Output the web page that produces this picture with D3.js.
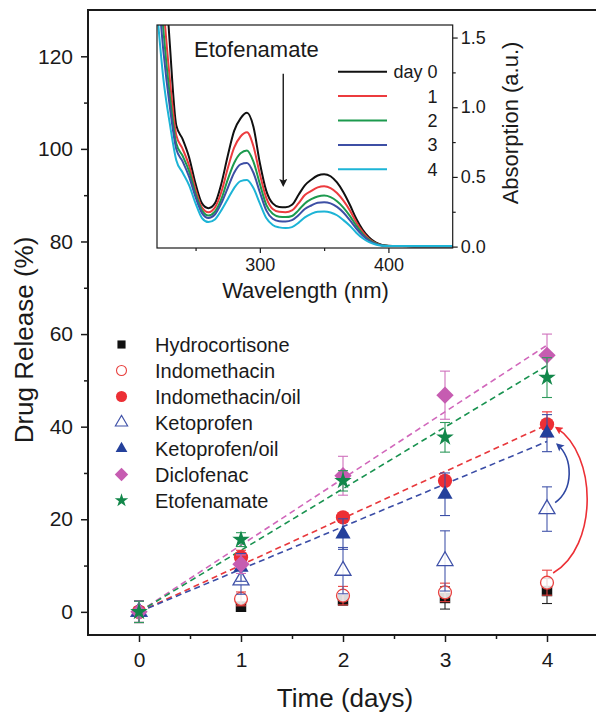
<!DOCTYPE html>
<html>
<head>
<meta charset="utf-8">
<script src="https://cdn.jsdelivr.net/npm/d3@7"></script>
<style>
body { margin: 0; background: #fff; }
text { font-family: "Liberation Sans", Arial, sans-serif; fill: #1a1a1a; }
</style>
</head>
<body>
<svg id="chart" width="596" height="714"></svg>
<script>
// ---- release data (days) ----
const days = [0, 1, 2, 3, 4]
const hydrocortisone = [0, 1.1, 2.5, 3.0, 4.5]
const hydrocortisoneErr = [2.3, 1.0, 1.0, 2.4, 2.7]
const indomethacin = [0, 2.8, 3.5, 4.2, 6.3]
const indomethacinErr = [2.3, 1.5, 2.0, 2.0, 2.7]
const indomethacinOil = [0, 11.8, 20.4, 28.3, 40.5]
const indomethacinOilErr = [2.3, 1.5, 1.0, 1.0, 2.7]
const ketoprofen = [0, 6.8, 8.9, 11.0, 22.2]
const ketoprofenErr = [2.3, 3.0, 5.0, 6.5, 4.8]
const ketoprofenOil = [0, 9.6, 16.8, 25.4, 38.6]
const ketoprofenOilErr = [2.3, 3.0, 3.3, 4.6, 4.0]
const diclofenac = [0, 10.3, 29.4, 46.8, 55.4]
const diclofenacErr = [2.3, 2.0, 4.2, 5.2, 4.6]
const etofenamate = [0, 15.6, 28.3, 37.7, 50.6]
const etofenamateErr = [2.3, 1.5, 2.2, 3.2, 4.3]
// linear fit slopes (% per day)
const fitSlopes = [10.1, 9.2, 14.4, 13.3]

// ---- inset spectra ----
const wavelength = [220, 225, 230, 235, 240, 245, 250, 255, 260, 265, 270, 275, 280, 285, 290, 295, 300, 305, 310, 315, 320, 325, 330, 335, 340, 345, 350, 355, 360, 365, 370, 375, 380, 385, 390, 395, 400, 410, 420, 430, 440, 450]
const absDay0 = [3.2, 2.2, 1.45, 0.87, 0.77, 0.64, 0.45, 0.31, 0.276, 0.31, 0.45, 0.65, 0.83, 0.92, 0.96, 0.86, 0.60, 0.40, 0.31, 0.285, 0.283, 0.30, 0.37, 0.44, 0.48, 0.51, 0.52, 0.505, 0.46, 0.39, 0.30, 0.20, 0.12, 0.065, 0.03, 0.012, 0.006, 0.004, 0.003, 0.003, 0.003, 0.003]
const absDay1 = [2.6, 1.75, 1.2, 0.80, 0.70, 0.58, 0.41, 0.28, 0.247, 0.28, 0.39, 0.56, 0.71, 0.79, 0.82, 0.72, 0.52, 0.35, 0.27, 0.25, 0.247, 0.26, 0.31, 0.37, 0.40, 0.425, 0.433, 0.42, 0.385, 0.33, 0.26, 0.175, 0.105, 0.055, 0.025, 0.01, 0.005, 0.004, 0.003, 0.003, 0.003, 0.003]
const absDay2 = [2.2, 1.55, 1.08, 0.74, 0.65, 0.54, 0.38, 0.26, 0.223, 0.25, 0.34, 0.48, 0.60, 0.67, 0.69, 0.61, 0.45, 0.30, 0.235, 0.215, 0.212, 0.22, 0.26, 0.31, 0.34, 0.36, 0.366, 0.355, 0.325, 0.28, 0.22, 0.15, 0.09, 0.048, 0.022, 0.009, 0.005, 0.004, 0.003, 0.003, 0.003, 0.003]
const absDay3 = [1.95, 1.4, 1.0, 0.70, 0.61, 0.50, 0.355, 0.24, 0.205, 0.23, 0.31, 0.42, 0.53, 0.59, 0.60, 0.53, 0.39, 0.26, 0.20, 0.182, 0.18, 0.19, 0.225, 0.27, 0.295, 0.315, 0.319, 0.31, 0.285, 0.245, 0.19, 0.13, 0.08, 0.042, 0.02, 0.008, 0.005, 0.004, 0.003, 0.003, 0.003, 0.003]
const absDay4 = [1.7, 1.2, 0.88, 0.62, 0.53, 0.44, 0.31, 0.205, 0.176, 0.195, 0.26, 0.34, 0.42, 0.47, 0.478, 0.42, 0.31, 0.205, 0.155, 0.138, 0.133, 0.14, 0.17, 0.21, 0.235, 0.25, 0.252, 0.245, 0.225, 0.19, 0.15, 0.10, 0.06, 0.032, 0.015, 0.007, 0.005, 0.004, 0.004, 0.004, 0.004, 0.004]
const dayLabels = ['day 0', '1', '2', '3', '4']

const font = '"Liberation Sans", Arial, sans-serif'
const svg = d3.select('#chart')

const x = d3.scaleLinear().domain([-0.5, 4.5]).range([88, 598])
const y = d3.scaleLinear().domain([-5, 130]).range([635, 10])

// symbols
const diamond = {
	draw(ctx, size) {
		const r = Math.sqrt(size / 2)
		ctx.moveTo(0, -r); ctx.lineTo(r, 0); ctx.lineTo(0, r); ctx.lineTo(-r, 0); ctx.closePath()
	}
}

const series = [
	{ name: 'Hydrocortisone', v: hydrocortisone, e: hydrocortisoneErr, color: '#111', ebar: '#222', shape: d3.symbolSquare, size: 110, filled: true },
	{ name: 'Indomethacin', v: indomethacin, e: indomethacinErr, color: '#e8413f', ebar: '#e8413f', shape: d3.symbolCircle, size: 130, filled: false },
	{ name: 'Indomethacin/oil', v: indomethacinOil, e: indomethacinOilErr, color: '#ec2f35', ebar: '#ec2f35', shape: d3.symbolCircle, size: 160, filled: true },
	{ name: 'Ketoprofen', v: ketoprofen, e: ketoprofenErr, color: '#3f51a8', ebar: '#4456ab', shape: d3.symbolTriangle, size: 110, filled: false },
	{ name: 'Ketoprofen/oil', v: ketoprofenOil, e: ketoprofenOilErr, color: '#24409b', ebar: '#3a4ea6', shape: d3.symbolTriangle, size: 100, filled: true },
	{ name: 'Diclofenac', v: diclofenac, e: diclofenacErr, color: '#c65cb1', ebar: '#cf70bc', shape: diamond, size: 150, filled: true },
	{ name: 'Etofenamate', v: etofenamate, e: etofenamateErr, color: '#12874a', ebar: '#2e9a5c', shape: d3.symbolStar, size: 95, filled: true }
]

// ---------- main axes ----------
function styleAxis(g, fs) {
	g.select('.domain').remove()
	g.selectAll('.tick line').attr('stroke', '#1a1a1a').attr('stroke-width', 1.5)
	g.selectAll('.tick text').attr('font-size', fs).attr('font-family', font).attr('fill', '#1a1a1a')
}

svg.append('g').attr('transform', 'translate(0,635)')
	.call(d3.axisBottom(x).tickValues(days).tickSize(7).tickPadding(10).tickFormat(d3.format('d')))
	.call(g => styleAxis(g, 21))
svg.append('g').attr('transform', 'translate(0,635)')
	.call(d3.axisBottom(x).tickValues([0.5, 1.5, 2.5, 3.5]).tickSize(4).tickFormat(''))
	.call(g => styleAxis(g, 0))
svg.append('g').attr('transform', 'translate(88,0)')
	.call(d3.axisLeft(y).tickValues([0, 20, 40, 60, 80, 100, 120]).tickSize(7).tickPadding(8))
	.call(g => styleAxis(g, 21))
svg.append('g').attr('transform', 'translate(88,0)')
	.call(d3.axisLeft(y).tickValues([10, 30, 50, 70, 90, 110]).tickSize(4).tickFormat(''))
	.call(g => styleAxis(g, 0))

svg.append('rect')
	.attr('x', x.range()[0]).attr('y', y.range()[1])
	.attr('width', x.range()[1] - x.range()[0]).attr('height', y.range()[0] - y.range()[1])
	.attr('fill', 'none').attr('stroke', '#1a1a1a').attr('stroke-width', 2)

svg.append('text')
	.attr('transform', 'translate(33,340) rotate(-90)')
	.attr('text-anchor', 'middle').attr('font-size', 26)
	.text('Drug Release (%)')
svg.append('text')
	.attr('x', 345).attr('y', 707)
	.attr('text-anchor', 'middle').attr('font-size', 26)
	.text('Time (days)')

// ---------- fits ----------
const fitColors = ['#e8383c', '#3b4da6', '#d167bb', '#199250']
fitSlopes.forEach((s, i) => {
	svg.append('line')
		.attr('x1', x(0)).attr('y1', y(0))
		.attr('x2', x(4)).attr('y2', y(4 * s))
		.attr('stroke', fitColors[i]).attr('stroke-width', 1.6)
		.attr('stroke-dasharray', '6,4')
})

// ---------- points ----------
const cap = 5
series.forEach(s => {
	const g = svg.append('g')
	days.forEach((d, i) => {
		const cx = x(d)
		const lo = y(s.v[i] - s.e[i]), hi = y(s.v[i] + s.e[i])
		g.append('line').attr('x1', cx).attr('x2', cx).attr('y1', lo).attr('y2', hi)
			.attr('stroke', s.ebar).attr('stroke-width', 1.1)
		g.append('line').attr('x1', cx - cap).attr('x2', cx + cap).attr('y1', lo).attr('y2', lo)
			.attr('stroke', s.ebar).attr('stroke-width', 1.1)
		g.append('line').attr('x1', cx - cap).attr('x2', cx + cap).attr('y1', hi).attr('y2', hi)
			.attr('stroke', s.ebar).attr('stroke-width', 1.1)
	})
	g.selectAll('path.pt')
		.data(days)
		.enter()
		.append('path')
		.attr('class', 'pt')
		.attr('transform', (d, i) => 'translate(' + x(d) + ',' + y(s.v[i]) + ')')
		.attr('d', d3.symbol().type(s.shape).size(s.size))
		.attr('fill', s.filled ? s.color : '#fff')
		.attr('fill-opacity', s.filled ? 1 : 0.85)
		.attr('stroke', s.filled ? 'none' : s.color)
		.attr('stroke-width', 1.3)
})

// ---------- curved arrows ----------
const defs = svg.append('defs')
function arrowMarker(id, color) {
	defs.append('marker')
		.attr('id', id).attr('viewBox', '0 0 10 10')
		.attr('refX', 8).attr('refY', 5)
		.attr('markerWidth', 10).attr('markerHeight', 8)
		.attr('markerUnits', 'userSpaceOnUse')
		.attr('orient', 'auto')
		.append('path').attr('d', 'M0,0 L10,5 L0,10 L2,5 z').attr('fill', color)
}
arrowMarker('arrBlue', '#2f47a2')
arrowMarker('arrRed', '#ec2f35')

function curve(p) {
	return 'M' + x(p[0][0]) + ',' + y(p[0][1]) +
		' C' + x(p[1][0]) + ',' + y(p[1][1]) + ' ' + x(p[2][0]) + ',' + y(p[2][1]) +
		' ' + x(p[3][0]) + ',' + y(p[3][1])
}
svg.append('path')
	.attr('d', curve([[4.08, 23.6], [4.26, 26.5], [4.26, 33], [4.1, 36.2]]))
	.attr('fill', 'none').attr('stroke', '#2f47a2').attr('stroke-width', 1.6)
	.attr('marker-end', 'url(#arrBlue)')
svg.append('path')
	.attr('d', curve([[4.06, 8.4], [4.5, 14], [4.5, 34], [4.09, 39.8]]))
	.attr('fill', 'none').attr('stroke', '#ec2f35').attr('stroke-width', 1.6)
	.attr('marker-end', 'url(#arrRed)')

// ---------- legend ----------
const lg = svg.append('g')
series.forEach((s, i) => {
	const by = 351.5 + i * 26
	lg.append('path')
		.attr('transform', 'translate(121.5,' + (by - 7) + ')')
		.attr('d', d3.symbol().type(s.shape).size(s.size * 0.6))
		.attr('fill', s.filled ? s.color : '#fff')
		.attr('stroke', s.filled ? 'none' : s.color)
		.attr('stroke-width', 1.1)
	lg.append('text')
		.attr('x', 155).attr('y', by)
		.attr('font-size', 20)
		.text(s.name)
})

// ---------- inset ----------
const ix = d3.scaleLinear().domain([220, 450]).range([157, 452.7])
const iy = d3.scaleLinear().domain([-0.01, 1.59]).range([248, 25])
const inset = svg.append('g')

inset.append('rect')
	.attr('x', 157).attr('y', 25).attr('width', 295.7).attr('height', 223)
	.attr('fill', '#fff')

defs.append('clipPath').attr('id', 'insetClip')
	.append('rect').attr('x', 157).attr('y', 25).attr('width', 295.7).attr('height', 223)

const spectra = [absDay0, absDay1, absDay2, absDay3, absDay4]
const specColors = ['#111111', '#ec3b3e', '#1c9a4e', '#3d4fa5', '#1db4d6']
const line = d3.line()
	.x((d, i) => ix(wavelength[i]))
	.y(d => iy(d))
	.curve(d3.curveMonotoneX)

const plot = inset.append('g').attr('clip-path', 'url(#insetClip)')
spectra.forEach((sp, i) => {
	plot.append('path')
		.attr('d', line(sp))
		.attr('fill', 'none')
		.attr('stroke', specColors[i])
		.attr('stroke-width', 2)
})

inset.append('rect')
	.attr('x', 157).attr('y', 25).attr('width', 295.7).attr('height', 223)
	.attr('fill', 'none').attr('stroke', '#1a1a1a').attr('stroke-width', 1.2)

inset.append('g').attr('transform', 'translate(0,248)')
	.call(d3.axisBottom(ix).tickValues([300, 400]).tickSize(5).tickPadding(5))
	.call(g => styleAxis(g, 18))
inset.append('g').attr('transform', 'translate(0,248)')
	.call(d3.axisBottom(ix).tickValues([250, 350]).tickSize(3).tickFormat(''))
	.call(g => styleAxis(g, 0))
inset.append('g').attr('transform', 'translate(452.7,0)')
	.call(d3.axisRight(iy).tickValues([0, 0.5, 1.0, 1.5]).tickSize(5).tickPadding(3).tickFormat(d3.format('.1f')))
	.call(g => styleAxis(g, 18))
inset.append('g').attr('transform', 'translate(452.7,0)')
	.call(d3.axisRight(iy).tickValues([0.25, 0.75, 1.25]).tickSize(3).tickFormat(''))
	.call(g => styleAxis(g, 0))
inset.selectAll('.tick line').attr('stroke-width', 1.2)

inset.append('text')
	.attr('x', 305.5).attr('y', 298)
	.attr('text-anchor', 'middle').attr('font-size', 22)
	.text('Wavelength (nm)')
inset.append('text')
	.attr('transform', 'translate(518,123) rotate(-90)')
	.attr('text-anchor', 'middle').attr('font-size', 22)
	.text('Absorption (a.u.)')

inset.append('text')
	.attr('x', ix(248.8)).attr('y', 57)
	.attr('font-size', 22)
	.text('Etofenamate')

arrowMarker('arrBlack', '#1a1a1a')
inset.append('line')
	.attr('x1', ix(318.2)).attr('x2', ix(318.2))
	.attr('y1', iy(1.24)).attr('y2', iy(0.44))
	.attr('stroke', '#1a1a1a').attr('stroke-width', 1.4)
	.attr('marker-end', 'url(#arrBlack)')

dayLabels.forEach((lab, i) => {
	const ly = 71.7 + i * 24.4
	inset.append('line')
		.attr('x1', 338).attr('x2', 387)
		.attr('y1', ly).attr('y2', ly)
		.attr('stroke', specColors[i]).attr('stroke-width', 2)
	inset.append('text')
		.attr('x', 437.5).attr('y', ly + 6.5)
		.attr('text-anchor', 'end').attr('font-size', 18)
		.text(lab)
})
</script>
</body>
</html>
